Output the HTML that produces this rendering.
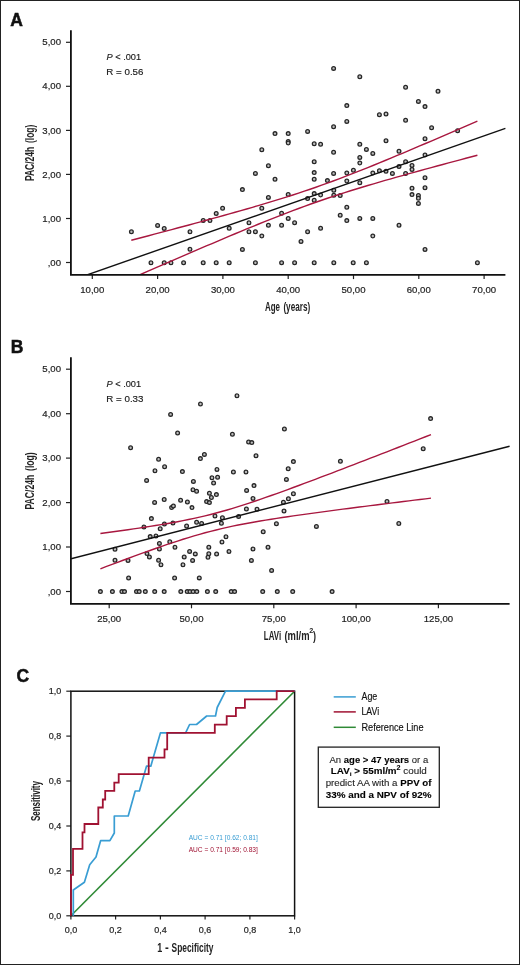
<!DOCTYPE html>
<html><head><meta charset="utf-8"><style>
html,body{margin:0;padding:0;background:#fff;}
body{width:520px;height:965px;overflow:hidden;}
svg{display:block;will-change:transform;font-family:"Liberation Sans",sans-serif;}
.tk{font-size:9.6px;fill:#1e1e1e;stroke:#1e1e1e;stroke-width:0.2px;}
.tkc{font-size:9px;fill:#1e1e1e;stroke:#1e1e1e;stroke-width:0.2px;}
.ax{stroke:#111;stroke-width:1.8;fill:none;}
.tkl line{stroke:#222;stroke-width:1.2;}
.pt circle{fill:#bdbdbd;stroke:#262626;stroke-width:1.3;}
.lbl{font-weight:bold;font-size:17.5px;fill:#111;stroke:#111;stroke-width:0.5px;}
.ttl{font-weight:bold;font-size:12px;fill:#222;}
.pr{font-size:9.6px;fill:#1a1a1a;stroke:#1a1a1a;stroke-width:0.15px;}
.leg{font-size:10.2px;fill:#111;stroke:#111;stroke-width:0.15px;}
.bx{font-size:9px;fill:#262626;stroke:#262626;stroke-width:0.12px;}
.bx .b{font-weight:bold;fill:#000;}
</style></head><body>
<svg width="520" height="965" viewBox="0 0 520 965">
<defs>
<clipPath id="cA"><rect x="71" y="30" width="440" height="244"/></clipPath>
<clipPath id="cB"><rect x="71" y="357" width="440" height="246.5"/></clipPath>
</defs>
<rect x="0.5" y="0.5" width="519" height="964" fill="#fff" stroke="#222" stroke-width="1"/>

<!-- ===== A ===== -->
<text x="10.3" y="26.0" class="lbl">A</text>
<g class="tkl"><line x1="66" y1="262.5" x2="71" y2="262.5"/>
<text x="61" y="265.6" text-anchor="end" class="tk">,00</text>
<line x1="66" y1="218.5" x2="71" y2="218.5"/>
<text x="61" y="221.6" text-anchor="end" class="tk">1,00</text>
<line x1="66" y1="174.4" x2="71" y2="174.4"/>
<text x="61" y="177.5" text-anchor="end" class="tk">2,00</text>
<line x1="66" y1="130.4" x2="71" y2="130.4"/>
<text x="61" y="133.5" text-anchor="end" class="tk">3,00</text>
<line x1="66" y1="86.3" x2="71" y2="86.3"/>
<text x="61" y="89.4" text-anchor="end" class="tk">4,00</text>
<line x1="66" y1="42.3" x2="71" y2="42.3"/>
<text x="61" y="45.4" text-anchor="end" class="tk">5,00</text>
<line x1="92.3" y1="274.6" x2="92.3" y2="279.1"/>
<text x="92.3" y="292.5" text-anchor="middle" class="tk">10,00</text>
<line x1="157.6" y1="274.6" x2="157.6" y2="279.1"/>
<text x="157.6" y="292.5" text-anchor="middle" class="tk">20,00</text>
<line x1="222.9" y1="274.6" x2="222.9" y2="279.1"/>
<text x="222.9" y="292.5" text-anchor="middle" class="tk">30,00</text>
<line x1="288.2" y1="274.6" x2="288.2" y2="279.1"/>
<text x="288.2" y="292.5" text-anchor="middle" class="tk">40,00</text>
<line x1="353.5" y1="274.6" x2="353.5" y2="279.1"/>
<text x="353.5" y="292.5" text-anchor="middle" class="tk">50,00</text>
<line x1="418.8" y1="274.6" x2="418.8" y2="279.1"/>
<text x="418.8" y="292.5" text-anchor="middle" class="tk">60,00</text>
<line x1="484.1" y1="274.6" x2="484.1" y2="279.1"/>
<text x="484.1" y="292.5" text-anchor="middle" class="tk">70,00</text></g>
<path class="ax" d="M70.9,30.2 V274.9 H505.4"/>
<g class="pt"><circle cx="151.0" cy="262.8" r="1.85"/>
<circle cx="164.2" cy="262.8" r="1.85"/>
<circle cx="171.0" cy="262.8" r="1.85"/>
<circle cx="183.6" cy="262.8" r="1.85"/>
<circle cx="203.2" cy="262.8" r="1.85"/>
<circle cx="216.2" cy="262.8" r="1.85"/>
<circle cx="229.2" cy="262.8" r="1.85"/>
<circle cx="255.4" cy="262.8" r="1.85"/>
<circle cx="281.6" cy="262.8" r="1.85"/>
<circle cx="294.6" cy="262.8" r="1.85"/>
<circle cx="314.2" cy="262.8" r="1.85"/>
<circle cx="333.8" cy="262.8" r="1.85"/>
<circle cx="353.2" cy="262.8" r="1.85"/>
<circle cx="366.4" cy="262.8" r="1.85"/>
<circle cx="477.4" cy="262.8" r="1.85"/>
<circle cx="131.4" cy="231.8" r="1.85"/>
<circle cx="157.6" cy="225.4" r="1.85"/>
<circle cx="164.2" cy="228.4" r="1.85"/>
<circle cx="190.0" cy="231.8" r="1.85"/>
<circle cx="190.0" cy="249.2" r="1.85"/>
<circle cx="203.2" cy="220.4" r="1.85"/>
<circle cx="210.0" cy="220.6" r="1.85"/>
<circle cx="216.2" cy="213.4" r="1.85"/>
<circle cx="222.6" cy="208.2" r="1.85"/>
<circle cx="229.2" cy="228.2" r="1.85"/>
<circle cx="242.4" cy="189.6" r="1.85"/>
<circle cx="242.4" cy="249.4" r="1.85"/>
<circle cx="249.0" cy="222.8" r="1.85"/>
<circle cx="249.0" cy="231.8" r="1.85"/>
<circle cx="255.4" cy="231.8" r="1.85"/>
<circle cx="255.4" cy="173.4" r="1.85"/>
<circle cx="261.8" cy="208.2" r="1.85"/>
<circle cx="261.8" cy="236.0" r="1.85"/>
<circle cx="261.8" cy="149.8" r="1.85"/>
<circle cx="268.4" cy="197.4" r="1.85"/>
<circle cx="268.4" cy="225.2" r="1.85"/>
<circle cx="268.4" cy="165.8" r="1.85"/>
<circle cx="275.0" cy="179.2" r="1.85"/>
<circle cx="275.0" cy="133.6" r="1.85"/>
<circle cx="281.6" cy="213.2" r="1.85"/>
<circle cx="281.6" cy="225.2" r="1.85"/>
<circle cx="288.2" cy="194.4" r="1.85"/>
<circle cx="288.2" cy="218.4" r="1.85"/>
<circle cx="288.2" cy="133.6" r="1.85"/>
<circle cx="288.2" cy="141.4" r="1.85"/>
<circle cx="288.2" cy="143.0" r="1.85"/>
<circle cx="294.6" cy="222.8" r="1.85"/>
<circle cx="301.0" cy="241.4" r="1.85"/>
<circle cx="307.6" cy="198.6" r="1.85"/>
<circle cx="307.6" cy="231.8" r="1.85"/>
<circle cx="307.6" cy="131.4" r="1.85"/>
<circle cx="314.2" cy="179.2" r="1.85"/>
<circle cx="314.2" cy="193.6" r="1.85"/>
<circle cx="314.2" cy="200.2" r="1.85"/>
<circle cx="314.2" cy="143.8" r="1.85"/>
<circle cx="314.2" cy="161.8" r="1.85"/>
<circle cx="314.2" cy="172.6" r="1.85"/>
<circle cx="320.6" cy="195.0" r="1.85"/>
<circle cx="320.6" cy="228.2" r="1.85"/>
<circle cx="320.6" cy="144.2" r="1.85"/>
<circle cx="327.4" cy="180.6" r="1.85"/>
<circle cx="333.8" cy="190.2" r="1.85"/>
<circle cx="333.8" cy="195.2" r="1.85"/>
<circle cx="333.6" cy="126.8" r="1.85"/>
<circle cx="333.6" cy="152.2" r="1.85"/>
<circle cx="333.6" cy="173.4" r="1.85"/>
<circle cx="333.6" cy="68.4" r="1.85"/>
<circle cx="340.2" cy="195.6" r="1.85"/>
<circle cx="340.2" cy="215.2" r="1.85"/>
<circle cx="346.8" cy="181.0" r="1.85"/>
<circle cx="346.8" cy="207.2" r="1.85"/>
<circle cx="346.8" cy="220.6" r="1.85"/>
<circle cx="346.8" cy="105.6" r="1.85"/>
<circle cx="346.8" cy="121.4" r="1.85"/>
<circle cx="346.8" cy="173.0" r="1.85"/>
<circle cx="353.4" cy="170.2" r="1.85"/>
<circle cx="359.8" cy="182.8" r="1.85"/>
<circle cx="359.8" cy="218.4" r="1.85"/>
<circle cx="359.8" cy="76.8" r="1.85"/>
<circle cx="359.8" cy="144.2" r="1.85"/>
<circle cx="359.8" cy="157.4" r="1.85"/>
<circle cx="359.8" cy="163.0" r="1.85"/>
<circle cx="366.4" cy="149.4" r="1.85"/>
<circle cx="372.8" cy="218.4" r="1.85"/>
<circle cx="372.8" cy="236.0" r="1.85"/>
<circle cx="372.8" cy="153.4" r="1.85"/>
<circle cx="372.8" cy="173.0" r="1.85"/>
<circle cx="379.4" cy="114.8" r="1.85"/>
<circle cx="379.4" cy="170.8" r="1.85"/>
<circle cx="386.0" cy="114.0" r="1.85"/>
<circle cx="386.0" cy="140.8" r="1.85"/>
<circle cx="386.0" cy="171.2" r="1.85"/>
<circle cx="392.4" cy="173.4" r="1.85"/>
<circle cx="399.0" cy="225.2" r="1.85"/>
<circle cx="399.0" cy="151.2" r="1.85"/>
<circle cx="399.0" cy="166.4" r="1.85"/>
<circle cx="405.6" cy="87.2" r="1.85"/>
<circle cx="405.6" cy="120.2" r="1.85"/>
<circle cx="405.6" cy="161.8" r="1.85"/>
<circle cx="405.6" cy="173.4" r="1.85"/>
<circle cx="412.0" cy="188.2" r="1.85"/>
<circle cx="412.0" cy="194.6" r="1.85"/>
<circle cx="412.0" cy="165.4" r="1.85"/>
<circle cx="412.0" cy="169.4" r="1.85"/>
<circle cx="418.4" cy="195.4" r="1.85"/>
<circle cx="418.4" cy="198.2" r="1.85"/>
<circle cx="418.4" cy="203.4" r="1.85"/>
<circle cx="418.4" cy="101.4" r="1.85"/>
<circle cx="425.0" cy="106.6" r="1.85"/>
<circle cx="425.0" cy="138.8" r="1.85"/>
<circle cx="425.0" cy="155.0" r="1.85"/>
<circle cx="425.0" cy="177.8" r="1.85"/>
<circle cx="425.0" cy="187.8" r="1.85"/>
<circle cx="425.0" cy="249.4" r="1.85"/>
<circle cx="431.6" cy="127.8" r="1.85"/>
<circle cx="438.0" cy="91.2" r="1.85"/>
<circle cx="457.6" cy="130.8" r="1.85"/></g>
<g clip-path="url(#cA)">
<line x1="86" y1="275.26" x2="505.4" y2="128.34" stroke="#111" stroke-width="1.4"/>
<path d="M131.30,240.27 L137.07,238.75 L142.84,237.23 L148.61,235.71 L154.37,234.19 L160.14,232.66 L165.91,231.12 L171.68,229.59 L177.45,228.05 L183.22,226.50 L188.98,224.95 L194.75,223.39 L200.52,221.83 L206.29,220.26 L212.06,218.68 L217.82,217.09 L223.59,215.49 L229.36,213.88 L235.13,212.26 L240.90,210.63 L246.67,208.98 L252.44,207.31 L258.20,205.62 L263.97,203.92 L269.74,202.19 L275.51,200.43 L281.28,198.65 L287.04,196.83 L292.81,194.98 L298.58,193.10 L304.35,191.18 L310.12,189.22 L315.89,187.22 L321.65,185.18 L327.42,183.10 L333.19,180.98 L338.96,178.82 L344.73,176.63 L350.50,174.41 L356.26,172.15 L362.03,169.87 L367.80,167.56 L373.57,165.23 L379.34,162.87 L385.11,160.50 L390.88,158.11 L396.64,155.70 L402.41,153.28 L408.18,150.85 L413.95,148.41 L419.72,145.95 L425.49,143.49 L431.25,141.02 L437.02,138.54 L442.79,136.06 L448.56,133.57 L454.33,131.08 L460.09,128.58 L465.86,126.07 L471.63,123.56 L477.40,121.05" stroke="#a8173f" stroke-width="1.4" fill="none"/>
<path d="M131.30,278.51 L137.07,275.98 L142.84,273.46 L148.61,270.94 L154.37,268.43 L160.14,265.92 L165.91,263.41 L171.68,260.90 L177.45,258.40 L183.22,255.91 L188.98,253.42 L194.75,250.93 L200.52,248.45 L206.29,245.98 L212.06,243.52 L217.82,241.07 L223.59,238.62 L229.36,236.19 L235.13,233.77 L240.90,231.36 L246.67,228.97 L252.44,226.60 L258.20,224.24 L263.97,221.91 L269.74,219.60 L275.51,217.31 L281.28,215.06 L287.04,212.83 L292.81,210.64 L298.58,208.48 L304.35,206.36 L310.12,204.28 L315.89,202.23 L321.65,200.23 L327.42,198.27 L333.19,196.35 L338.96,194.46 L344.73,192.61 L350.50,190.79 L356.26,189.01 L362.03,187.25 L367.80,185.52 L373.57,183.81 L379.34,182.12 L385.11,180.45 L390.88,178.80 L396.64,177.17 L402.41,175.55 L408.18,173.94 L413.95,172.34 L419.72,170.75 L425.49,169.17 L431.25,167.60 L437.02,166.03 L442.79,164.48 L448.56,162.92 L454.33,161.38 L460.09,159.84 L465.86,158.30 L471.63,156.77 L477.40,155.24" stroke="#a8173f" stroke-width="1.4" fill="none"/>
</g>
<text x="106.5" y="59.6" class="pr" textLength="34.6" lengthAdjust="spacingAndGlyphs"><tspan font-style="italic">P</tspan> &lt; .001</text>
<text x="106.3" y="75.2" class="pr" textLength="37.2" lengthAdjust="spacingAndGlyphs">R = 0.56</text>
<text x="265" y="310.5" class="ttl" textLength="15" lengthAdjust="spacingAndGlyphs">Age</text><text x="283.4" y="310.5" class="ttl" textLength="26.8" lengthAdjust="spacingAndGlyphs">(years)</text>
<g transform="translate(33.9,180.5) rotate(-90)"><text x="-0.6" y="0" class="ttl" textLength="34.4" lengthAdjust="spacingAndGlyphs">PAC/24h</text><text x="37.5" y="0" class="ttl" textLength="18.4" lengthAdjust="spacingAndGlyphs">(log)</text></g>

<!-- ===== B ===== -->
<text x="10.7" y="353.0" class="lbl">B</text>
<g class="tkl"><line x1="66" y1="591.5" x2="71" y2="591.5"/>
<text x="61" y="594.6" text-anchor="end" class="tk">,00</text>
<line x1="66" y1="547.0" x2="71" y2="547.0"/>
<text x="61" y="550.1" text-anchor="end" class="tk">1,00</text>
<line x1="66" y1="502.6" x2="71" y2="502.6"/>
<text x="61" y="505.7" text-anchor="end" class="tk">2,00</text>
<line x1="66" y1="458.1" x2="71" y2="458.1"/>
<text x="61" y="461.2" text-anchor="end" class="tk">3,00</text>
<line x1="66" y1="413.7" x2="71" y2="413.7"/>
<text x="61" y="416.8" text-anchor="end" class="tk">4,00</text>
<line x1="66" y1="369.2" x2="71" y2="369.2"/>
<text x="61" y="372.3" text-anchor="end" class="tk">5,00</text>
<line x1="109.2" y1="603.8" x2="109.2" y2="608.3"/>
<text x="109.2" y="621.7" text-anchor="middle" class="tk">25,00</text>
<line x1="191.5" y1="603.8" x2="191.5" y2="608.3"/>
<text x="191.5" y="621.7" text-anchor="middle" class="tk">50,00</text>
<line x1="273.8" y1="603.8" x2="273.8" y2="608.3"/>
<text x="273.8" y="621.7" text-anchor="middle" class="tk">75,00</text>
<line x1="356.1" y1="603.8" x2="356.1" y2="608.3"/>
<text x="356.1" y="621.7" text-anchor="middle" class="tk">100,00</text>
<line x1="438.4" y1="603.8" x2="438.4" y2="608.3"/>
<text x="438.4" y="621.7" text-anchor="middle" class="tk">125,00</text></g>
<path class="ax" d="M70.9,357.3 V603.9 H509.6"/>
<g class="pt"><circle cx="100.4" cy="591.6" r="1.85"/>
<circle cx="112.4" cy="591.6" r="1.85"/>
<circle cx="121.9" cy="591.6" r="1.85"/>
<circle cx="124.5" cy="591.6" r="1.85"/>
<circle cx="136.5" cy="591.6" r="1.85"/>
<circle cx="139.2" cy="591.6" r="1.85"/>
<circle cx="145.3" cy="591.6" r="1.85"/>
<circle cx="154.7" cy="591.6" r="1.85"/>
<circle cx="164.2" cy="591.6" r="1.85"/>
<circle cx="180.8" cy="591.6" r="1.85"/>
<circle cx="187.2" cy="591.6" r="1.85"/>
<circle cx="190.0" cy="591.6" r="1.85"/>
<circle cx="193.1" cy="591.6" r="1.85"/>
<circle cx="196.8" cy="591.6" r="1.85"/>
<circle cx="207.4" cy="591.6" r="1.85"/>
<circle cx="215.7" cy="591.6" r="1.85"/>
<circle cx="231.2" cy="591.6" r="1.85"/>
<circle cx="234.6" cy="591.6" r="1.85"/>
<circle cx="262.7" cy="591.6" r="1.85"/>
<circle cx="277.3" cy="591.6" r="1.85"/>
<circle cx="292.7" cy="591.6" r="1.85"/>
<circle cx="332.1" cy="591.6" r="1.85"/>
<circle cx="115.0" cy="549.2" r="1.85"/>
<circle cx="115.0" cy="560.2" r="1.85"/>
<circle cx="128.0" cy="560.4" r="1.85"/>
<circle cx="128.6" cy="578.0" r="1.85"/>
<circle cx="144.0" cy="527.0" r="1.85"/>
<circle cx="147.0" cy="553.6" r="1.85"/>
<circle cx="149.4" cy="557.0" r="1.85"/>
<circle cx="150.2" cy="536.6" r="1.85"/>
<circle cx="151.4" cy="518.6" r="1.85"/>
<circle cx="154.6" cy="502.4" r="1.85"/>
<circle cx="156.0" cy="536.0" r="1.85"/>
<circle cx="158.6" cy="560.2" r="1.85"/>
<circle cx="159.4" cy="543.4" r="1.85"/>
<circle cx="159.4" cy="549.0" r="1.85"/>
<circle cx="160.2" cy="528.8" r="1.85"/>
<circle cx="161.0" cy="564.8" r="1.85"/>
<circle cx="164.2" cy="499.5" r="1.85"/>
<circle cx="164.4" cy="524.0" r="1.85"/>
<circle cx="169.8" cy="541.8" r="1.85"/>
<circle cx="171.6" cy="507.6" r="1.85"/>
<circle cx="173.4" cy="506.0" r="1.85"/>
<circle cx="173.0" cy="523.0" r="1.85"/>
<circle cx="174.6" cy="578.0" r="1.85"/>
<circle cx="175.0" cy="547.2" r="1.85"/>
<circle cx="180.6" cy="500.2" r="1.85"/>
<circle cx="183.0" cy="564.8" r="1.85"/>
<circle cx="184.2" cy="557.0" r="1.85"/>
<circle cx="186.6" cy="526.0" r="1.85"/>
<circle cx="187.4" cy="502.0" r="1.85"/>
<circle cx="189.6" cy="551.4" r="1.85"/>
<circle cx="192.0" cy="507.6" r="1.85"/>
<circle cx="192.6" cy="560.4" r="1.85"/>
<circle cx="195.3" cy="553.9" r="1.85"/>
<circle cx="196.6" cy="522.3" r="1.85"/>
<circle cx="199.3" cy="577.9" r="1.85"/>
<circle cx="170.6" cy="414.4" r="1.85"/>
<circle cx="177.6" cy="433.0" r="1.85"/>
<circle cx="130.6" cy="447.8" r="1.85"/>
<circle cx="158.6" cy="459.2" r="1.85"/>
<circle cx="164.6" cy="466.8" r="1.85"/>
<circle cx="155.0" cy="470.8" r="1.85"/>
<circle cx="182.4" cy="471.6" r="1.85"/>
<circle cx="146.6" cy="480.4" r="1.85"/>
<circle cx="193.4" cy="481.4" r="1.85"/>
<circle cx="193.0" cy="489.8" r="1.85"/>
<circle cx="196.6" cy="491.3" r="1.85"/>
<circle cx="200.5" cy="404.0" r="1.85"/>
<circle cx="232.4" cy="434.2" r="1.85"/>
<circle cx="248.6" cy="442.0" r="1.85"/>
<circle cx="251.8" cy="442.6" r="1.85"/>
<circle cx="284.4" cy="429.0" r="1.85"/>
<circle cx="204.4" cy="454.4" r="1.85"/>
<circle cx="200.4" cy="458.6" r="1.85"/>
<circle cx="256.0" cy="455.8" r="1.85"/>
<circle cx="293.4" cy="461.6" r="1.85"/>
<circle cx="217.0" cy="469.4" r="1.85"/>
<circle cx="288.2" cy="468.8" r="1.85"/>
<circle cx="233.4" cy="472.0" r="1.85"/>
<circle cx="246.0" cy="472.0" r="1.85"/>
<circle cx="212.0" cy="477.8" r="1.85"/>
<circle cx="217.6" cy="477.2" r="1.85"/>
<circle cx="286.4" cy="479.4" r="1.85"/>
<circle cx="213.6" cy="483.0" r="1.85"/>
<circle cx="254.0" cy="485.6" r="1.85"/>
<circle cx="246.6" cy="490.4" r="1.85"/>
<circle cx="209.4" cy="493.2" r="1.85"/>
<circle cx="216.4" cy="494.6" r="1.85"/>
<circle cx="211.4" cy="497.5" r="1.85"/>
<circle cx="293.4" cy="493.8" r="1.85"/>
<circle cx="253.0" cy="498.4" r="1.85"/>
<circle cx="288.4" cy="498.7" r="1.85"/>
<circle cx="206.6" cy="501.6" r="1.85"/>
<circle cx="209.4" cy="502.6" r="1.85"/>
<circle cx="283.4" cy="502.2" r="1.85"/>
<circle cx="246.4" cy="509.0" r="1.85"/>
<circle cx="257.0" cy="509.2" r="1.85"/>
<circle cx="284.0" cy="511.0" r="1.85"/>
<circle cx="215.0" cy="516.0" r="1.85"/>
<circle cx="222.4" cy="517.8" r="1.85"/>
<circle cx="238.6" cy="516.4" r="1.85"/>
<circle cx="201.6" cy="523.4" r="1.85"/>
<circle cx="221.4" cy="523.2" r="1.85"/>
<circle cx="276.4" cy="523.8" r="1.85"/>
<circle cx="263.2" cy="531.8" r="1.85"/>
<circle cx="226.0" cy="536.8" r="1.85"/>
<circle cx="222.0" cy="542.0" r="1.85"/>
<circle cx="208.8" cy="547.2" r="1.85"/>
<circle cx="253.0" cy="549.0" r="1.85"/>
<circle cx="268.0" cy="547.2" r="1.85"/>
<circle cx="208.8" cy="553.8" r="1.85"/>
<circle cx="208.0" cy="557.2" r="1.85"/>
<circle cx="216.6" cy="554.0" r="1.85"/>
<circle cx="229.0" cy="551.4" r="1.85"/>
<circle cx="251.4" cy="560.4" r="1.85"/>
<circle cx="271.6" cy="570.4" r="1.85"/>
<circle cx="237.0" cy="395.8" r="1.85"/>
<circle cx="340.4" cy="461.2" r="1.85"/>
<circle cx="387.0" cy="501.4" r="1.85"/>
<circle cx="316.4" cy="526.4" r="1.85"/>
<circle cx="398.8" cy="523.5" r="1.85"/>
<circle cx="430.6" cy="418.6" r="1.85"/>
<circle cx="423.2" cy="448.8" r="1.85"/></g>
<g clip-path="url(#cB)">
<line x1="71" y1="558.71" x2="509.6" y2="446.22" stroke="#111" stroke-width="1.4"/>
<path d="M100.40,533.54 L105.91,532.80 L111.42,532.05 L116.93,531.29 L122.44,530.52 L127.95,529.73 L133.46,528.93 L138.97,528.12 L144.48,527.29 L149.99,526.43 L155.50,525.56 L161.01,524.65 L166.52,523.71 L172.03,522.74 L177.54,521.72 L183.05,520.66 L188.56,519.55 L194.07,518.38 L199.58,517.15 L205.09,515.85 L210.60,514.48 L216.11,513.04 L221.62,511.53 L227.13,509.96 L232.64,508.32 L238.15,506.63 L243.66,504.88 L249.17,503.08 L254.68,501.24 L260.19,499.36 L265.70,497.45 L271.21,495.51 L276.72,493.54 L282.23,491.55 L287.74,489.55 L293.25,487.52 L298.76,485.48 L304.27,483.43 L309.78,481.37 L315.29,479.30 L320.80,477.22 L326.31,475.13 L331.82,473.03 L337.33,470.93 L342.84,468.82 L348.35,466.70 L353.86,464.59 L359.37,462.46 L364.88,460.34 L370.39,458.21 L375.90,456.07 L381.41,453.94 L386.92,451.80 L392.43,449.66 L397.94,447.52 L403.45,445.37 L408.96,443.22 L414.47,441.08 L419.98,438.92 L425.49,436.77 L431.00,434.62" stroke="#a8173f" stroke-width="1.4" fill="none"/>
<path d="M100.40,568.80 L105.91,566.71 L111.42,564.64 L116.93,562.57 L122.44,560.52 L127.95,558.47 L133.46,556.45 L138.97,554.43 L144.48,552.44 L149.99,550.47 L155.50,548.52 L161.01,546.60 L166.52,544.71 L172.03,542.86 L177.54,541.05 L183.05,539.28 L188.56,537.57 L194.07,535.91 L199.58,534.32 L205.09,532.79 L210.60,531.33 L216.11,529.95 L221.62,528.63 L227.13,527.37 L232.64,526.19 L238.15,525.06 L243.66,523.98 L249.17,522.95 L254.68,521.97 L260.19,521.02 L265.70,520.10 L271.21,519.22 L276.72,518.36 L282.23,517.52 L287.74,516.70 L293.25,515.90 L298.76,515.11 L304.27,514.33 L309.78,513.57 L315.29,512.82 L320.80,512.07 L326.31,511.34 L331.82,510.61 L337.33,509.88 L342.84,509.17 L348.35,508.45 L353.86,507.75 L359.37,507.04 L364.88,506.34 L370.39,505.65 L375.90,504.95 L381.41,504.26 L386.92,503.57 L392.43,502.89 L397.94,502.21 L403.45,501.53 L408.96,500.85 L414.47,500.17 L419.98,499.49 L425.49,498.82 L431.00,498.15" stroke="#a8173f" stroke-width="1.4" fill="none"/>
</g>
<text x="106.5" y="387.1" class="pr" textLength="34.6" lengthAdjust="spacingAndGlyphs"><tspan font-style="italic">P</tspan> &lt; .001</text>
<text x="106.3" y="401.9" class="pr" textLength="37.2" lengthAdjust="spacingAndGlyphs">R = 0.33</text>
<text x="263.8" y="639.6" class="ttl" textLength="17.3" lengthAdjust="spacingAndGlyphs">LAVi</text><text x="284.5" y="639.6" class="ttl" textLength="25" lengthAdjust="spacingAndGlyphs">(ml/m</text><text x="309.2" y="633" class="ttl" style="font-size:7px" textLength="4" lengthAdjust="spacingAndGlyphs">2</text><text x="312.9" y="639.6" class="ttl" textLength="3" lengthAdjust="spacingAndGlyphs">)</text>
<g transform="translate(33.9,508.9) rotate(-90)"><text x="-0.6" y="0" class="ttl" textLength="34.8" lengthAdjust="spacingAndGlyphs">PAC/24h</text><text x="38" y="0" class="ttl" textLength="18.6" lengthAdjust="spacingAndGlyphs">(log)</text></g>

<!-- ===== C ===== -->
<text x="16.6" y="681.6" class="lbl">C</text>
<g class="tkl"><line x1="70.9" y1="915.8" x2="70.9" y2="919.5999999999999"/>
<text x="70.9" y="933.0" text-anchor="middle" class="tkc">0,0</text>
<line x1="66.3" y1="915.8" x2="70.9" y2="915.8"/>
<text x="61.2" y="918.9" text-anchor="end" class="tkc">0,0</text>
<line x1="115.6" y1="915.8" x2="115.6" y2="919.5999999999999"/>
<text x="115.6" y="933.0" text-anchor="middle" class="tkc">0,2</text>
<line x1="66.3" y1="870.9" x2="70.9" y2="870.9"/>
<text x="61.2" y="874.0" text-anchor="end" class="tkc">0,2</text>
<line x1="160.4" y1="915.8" x2="160.4" y2="919.5999999999999"/>
<text x="160.4" y="933.0" text-anchor="middle" class="tkc">0,4</text>
<line x1="66.3" y1="826.0" x2="70.9" y2="826.0"/>
<text x="61.2" y="829.1" text-anchor="end" class="tkc">0,4</text>
<line x1="205.1" y1="915.8" x2="205.1" y2="919.5999999999999"/>
<text x="205.1" y="933.0" text-anchor="middle" class="tkc">0,6</text>
<line x1="66.3" y1="781.0" x2="70.9" y2="781.0"/>
<text x="61.2" y="784.1" text-anchor="end" class="tkc">0,6</text>
<line x1="249.9" y1="915.8" x2="249.9" y2="919.5999999999999"/>
<text x="249.9" y="933.0" text-anchor="middle" class="tkc">0,8</text>
<line x1="66.3" y1="736.1" x2="70.9" y2="736.1"/>
<text x="61.2" y="739.2" text-anchor="end" class="tkc">0,8</text>
<line x1="294.6" y1="915.8" x2="294.6" y2="919.5999999999999"/>
<text x="294.6" y="933.0" text-anchor="middle" class="tkc">1,0</text>
<line x1="66.3" y1="691.2" x2="70.9" y2="691.2"/>
<text x="61.2" y="694.3" text-anchor="end" class="tkc">1,0</text></g>
<path d="M70.9,915.8 L294.6,691.2" stroke="#2f8a36" stroke-width="1.6" fill="none"/>
<rect x="70.9" y="691.2" width="223.7" height="224.6" fill="none" stroke="#111" stroke-width="1.5"/>
<path d="M73.3,915.8 L73.3,890 L84.4,882.3 L89.7,864.7 L96,857 L100.6,840.7 L109.9,840.7 L114.3,833 L114.3,816 L128.2,816 L135.2,791 L139.4,791 L146.5,766.2 L150.8,766.2 L160.4,732.9 L166.5,732.9 L185.6,732.9 L189.6,724.5 L196.5,724.5 L206.7,716 L215.5,716 L217.2,707.5 L225.5,691.2 L294.6,691.2" stroke="#399dd3" stroke-width="1.7" fill="none" stroke-linejoin="round"/>
<path d="M71,915.8 L71,874.8 L73,874.8 L73,848.8 L82.5,848.8 L82.5,832.4 L84.5,832.4 L84.5,824 L98.3,824 L98.3,807.5 L102.8,807.5 L102.8,799.5 L105.2,799.5 L105.2,790.8 L114.3,790.8 L114.3,782.7 L118.7,782.7 L118.7,774.2 L148.7,774.2 L148.7,757.6 L164.5,757.6 L164.5,749.4 L167.2,749.4 L167.2,732.9 L214.8,732.9 L214.8,724.6 L226.7,724.6 L226.7,716.2 L235.9,716.2 L235.9,707.8 L244.9,707.8 L244.9,699.4 L276.7,699.4 L276.7,691.2 L294.6,691.2" stroke="#a01232" stroke-width="1.8" fill="none"/>
<text x="188.7" y="840.2" font-size="6.3px" fill="#399dd3" textLength="69.2" lengthAdjust="spacingAndGlyphs">AUC = 0.71 [0.62; 0.81]</text>
<text x="188.7" y="851.7" font-size="6.3px" fill="#a01232" textLength="69.2" lengthAdjust="spacingAndGlyphs">AUC = 0.71 [0.59; 0.83]</text>
<text x="157.2" y="952" class="ttl" textLength="5" lengthAdjust="spacingAndGlyphs">1</text><text x="164.9" y="952" class="ttl" textLength="3.8" lengthAdjust="spacingAndGlyphs">-</text><text x="171.6" y="952" class="ttl" textLength="41.8" lengthAdjust="spacingAndGlyphs">Specificity</text>
<text transform="translate(40.1,821.1) rotate(-90)" class="ttl" textLength="40.1" lengthAdjust="spacingAndGlyphs">Sensitivity</text>

<!-- legend -->
<line x1="333.7" y1="696.9" x2="355.8" y2="696.9" stroke="#399dd3" stroke-width="1.5"/>
<line x1="333.7" y1="711.9" x2="355.8" y2="711.9" stroke="#a01232" stroke-width="1.5"/>
<line x1="333.7" y1="727.3" x2="355.8" y2="727.3" stroke="#2f8a36" stroke-width="1.5"/>
<text x="361.5" y="700" class="leg" textLength="15.8" lengthAdjust="spacingAndGlyphs">Age</text>
<text x="361.5" y="715.2" class="leg" textLength="17.7" lengthAdjust="spacingAndGlyphs">LAVi</text>
<text x="361.5" y="730.6" class="leg" textLength="62" lengthAdjust="spacingAndGlyphs">Reference Line</text>

<rect x="318.3" y="747.1" width="121" height="60.2" fill="none" stroke="#222" stroke-width="1.3"/>
<g class="bx">
<text x="329.5" y="762.7" textLength="98.7" lengthAdjust="spacingAndGlyphs">An <tspan class="b">age &gt; 47 years</tspan> or a</text>
<text x="330.8" y="774.1" textLength="96" lengthAdjust="spacingAndGlyphs"><tspan class="b">LAV<tspan font-size="6px" dy="2">i</tspan><tspan dy="-2"> &gt; 55ml/m</tspan><tspan font-size="6.5px" dy="-4.2">2</tspan></tspan><tspan dy="4.2"> could</tspan></text>
<text x="325.7" y="786.4" textLength="105.8" lengthAdjust="spacingAndGlyphs">predict AA with a <tspan class="b">PPV of</tspan></text>
<text x="325.7" y="797.5" textLength="105.8" lengthAdjust="spacingAndGlyphs" class="b">33% and a NPV of 92%</text>
</g>
</svg>
</body></html>
